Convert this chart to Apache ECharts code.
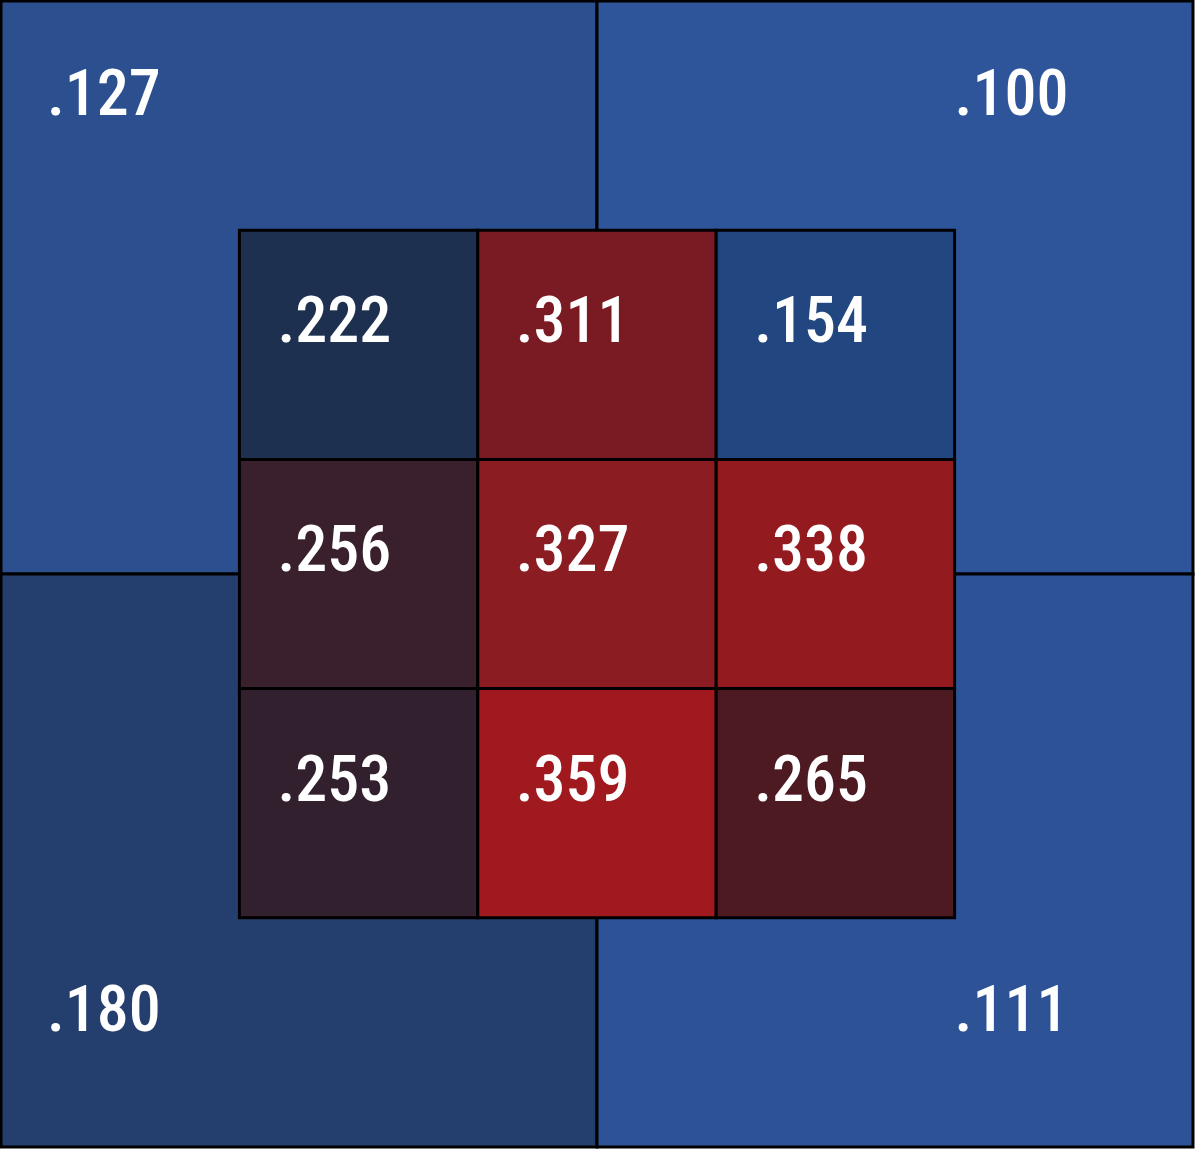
<!DOCTYPE html>
<html>
<head>
<meta charset="utf-8">
<script src="https://cdn.jsdelivr.net/npm/echarts@6/dist/echarts.min.js"></script>
<style>html,body{margin:0;padding:0;background:#fff;}#c{width:1200px;height:1152px;}</style>
</head>
<body>
<div id="c"></div>
<script>
// Outer quadrants: top-left, top-right, bottom-left, bottom-right
var outerNames = ['TL', 'TR', 'BL', 'BR'];
var outerValues = [0.127, 0.100, 0.180, 0.111];
// Inner 3x3 zone, rows top to bottom, columns left to right
var innerRow1 = [0.222, 0.311, 0.154];
var innerRow2 = [0.256, 0.327, 0.338];
var innerRow3 = [0.253, 0.359, 0.265];

// colour scale stops (value -> colour)
var scaleValues = [0.100, 0.111, 0.127, 0.154, 0.180, 0.222, 0.253, 0.256, 0.265, 0.311, 0.327, 0.338, 0.359];
var scaleColors = ['#2e5599', '#2d5396', '#2c4f8f', '#22467f', '#243f6e', '#1d3050', '#33202e', '#3a1f2c', '#4d1a22', '#7a1a22', '#8a1c22', '#931b20', '#a0191e'];

function hex2rgb(h){return [parseInt(h.substr(1,2),16),parseInt(h.substr(3,2),16),parseInt(h.substr(5,2),16)];}
function colorFor(v){
  if (v <= scaleValues[0]) return scaleColors[0];
  for (var i=1;i<scaleValues.length;i++){
    if (v <= scaleValues[i]){
      var t=(v-scaleValues[i-1])/(scaleValues[i]-scaleValues[i-1]);
      var a=hex2rgb(scaleColors[i-1]), b=hex2rgb(scaleColors[i]);
      return 'rgb('+[0,1,2].map(function(k){return Math.round(a[k]+(b[k]-a[k])*t);}).join(',')+')';
    }
  }
  return scaleColors[scaleColors.length-1];
}
function fmt(v){return v.toFixed(3).replace(/^0/,'');}

// build data: [x0, x1, y0, y1, value, index]
var outerData = outerValues.map(function(v,i){
  var col=i%2, row=Math.floor(i/2);
  return [col*2.5, col*2.5+2.5, row*2.5, row*2.5+2.5, v, i];
});
var innerRows=[innerRow1,innerRow2,innerRow3];
var innerData=[];
innerRows.forEach(function(r,ri){
  r.forEach(function(v,ci){ innerData.push([1+ci,2+ci,1+ri,2+ri,v,ri*3+ci]); });
});

var FONT = '"Roboto Condensed","Liberation Sans Narrow","Arial Narrow",Roboto,sans-serif';
var TEXTFONT = '500 64px ' + FONT;

function renderOuter(params, api){
  var p0=api.coord([api.value(0),api.value(2)]);
  var p1=api.coord([api.value(1),api.value(3)]);
  var idx=api.value(5);
  var col=idx%2,row=Math.floor(idx/2);
  var w=p1[0]-p0[0], h=p1[1]-p0[1];
  var tx = col===0 ? p0[0]+46 : p0[0]+w*0.6;
  var ty = row===0 ? p0[1]+98 : p1[1]-132;
  return {type:'group',children:[
    {type:'rect',shape:{x:p0[0],y:p0[1],width:w,height:h},style:{fill:colorFor(api.value(4)),stroke:'#000000',lineWidth:3}},
    {type:'text',x:tx,y:ty,style:{text:fmt(api.value(4)),fill:'#ffffff',font:TEXTFONT,textAlign:'left',textVerticalAlign:'middle'}}
  ]};
}
function renderInner(params, api){
  var p0=api.coord([api.value(0),api.value(2)]);
  var p1=api.coord([api.value(1),api.value(3)]);
  var w=p1[0]-p0[0], h=p1[1]-p0[1];
  return {type:'group',children:[
    {type:'rect',shape:{x:p0[0],y:p0[1],width:w,height:h},style:{fill:colorFor(api.value(4)),stroke:'#000000',lineWidth:3}},
    {type:'text',x:p0[0]+38,y:p0[1]+96,style:{text:fmt(api.value(4)),fill:'#ffffff',font:TEXTFONT,textAlign:'left',textVerticalAlign:'middle'}}
  ]};
}

var chart=echarts.init(document.getElementById('c'),null,{renderer:'canvas'});
chart.setOption({
  animation:false,
  backgroundColor:'#ffffff',
  grid:{left:1,top:1,width:1192,height:1146,containLabel:false},
  xAxis:{type:'value',min:0,max:5,show:false},
  yAxis:{type:'value',min:0,max:5,inverse:true,show:false},
  series:[
    {type:'custom',renderItem:renderOuter,data:outerData,encode:{x:[0,1],y:[2,3]},clip:false},
    {type:'custom',renderItem:renderInner,data:innerData,encode:{x:[0,1],y:[2,3]},clip:false}
  ]
});
</script>
</body>
</html>
